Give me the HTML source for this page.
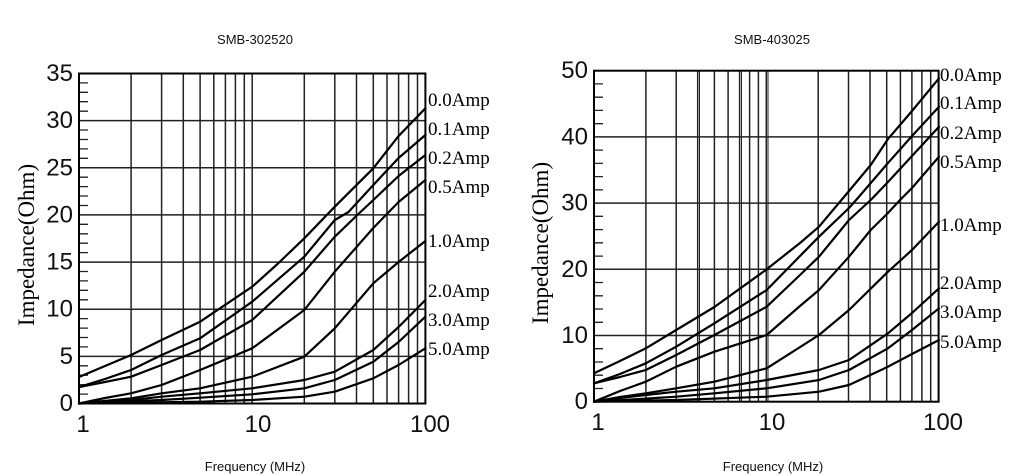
<!DOCTYPE html>
<html>
<head>
<meta charset="utf-8">
<style>
html,body{margin:0;padding:0;background:#fff;}
svg{display:block;}
.t{font-family:"Liberation Sans",Arial,sans-serif;fill:#111;}
.s{font-family:"Liberation Serif","Times New Roman",serif;fill:#000;}
</style>
</head>
<body>
<svg width="1024" height="476" viewBox="0 0 1024 476" xmlns="http://www.w3.org/2000/svg">
<rect width="1024" height="476" fill="#fff"/>

<!-- ================= LEFT CHART ================= -->
<text class="t" x="255" y="44" font-size="13" text-anchor="middle">SMB-302520</text>
<g stroke="#222" stroke-width="1.5" fill="none">
  <!-- vertical grid -->
  <path d="M131.1 73.5V403.5M161.6 73.5V403.5M183.3 73.5V403.5M200.1 73.5V403.5M213.8 73.5V403.5M225.4 73.5V403.5M235.4 73.5V403.5M244.3 73.5V403.5M252.2 73.5V403.5M304.3 73.5V403.5M334.8 73.5V403.5M356.5 73.5V403.5M373.3 73.5V403.5M387 73.5V403.5M398.6 73.5V403.5M408.6 73.5V403.5M417.5 73.5V403.5"/>
  <!-- horizontal grid -->
  <path d="M79 356.4H425.4M79 309.2H425.4M79 262.1H425.4M79 214.9H425.4M79 167.8H425.4M79 120.6H425.4"/>
  <!-- minor ticks -->
  <path stroke-width="1.3" d="M79 394.1h9M79 384.6h9M79 375.2h9M79 365.8h9M79 346.9h9M79 337.5h9M79 328.1h9M79 318.6h9M79 299.8h9M79 290.3h9M79 280.9h9M79 271.5h9M79 252.6h9M79 243.2h9M79 233.8h9M79 224.3h9M79 205.5h9M79 196h9M79 186.6h9M79 177.2h9M79 158.3h9M79 148.9h9M79 139.5h9M79 130h9M79 111.2h9M79 101.7h9M79 92.3h9M79 82.9h9"/>
</g>
<rect x="79" y="73.5" width="346.4" height="330" fill="none" stroke="#000" stroke-width="2"/>

<g stroke="#000" stroke-width="2.2" fill="none" stroke-linejoin="round" stroke-linecap="round">
  <polyline points="79,377 105,366 131.1,355 161.6,340 200.1,321.7 252.2,286.7 277.5,264 304.3,238.3 334.8,206.7 373.3,168.3 398.6,136 425.4,108.3"/>
  <polyline points="79,387 105,379 131.1,370 161.6,355 200.1,338.3 252.2,301.7 304.3,256.7 334.8,220 348.5,212 373.3,185 398.6,158 425.4,135"/>
  <polyline points="79,387 105,382 131.1,376.7 161.6,365 200.1,350 252.2,320 304.3,271.7 334.8,236.7 358.4,214 373.3,200 398.6,176 425.4,155"/>
  <polyline points="79,403.5 105,398 131.1,393.3 161.6,385 200.1,370 252.2,348.3 304.3,310 334.8,271.7 373.3,228 398.6,202 425.4,180"/>
  <polyline points="79,403.5 131.1,398.3 161.6,393.3 200.1,388.3 252.2,376.7 304.3,356.7 334.8,328.3 373.3,283.3 398.6,262 425.4,241"/>
  <polyline points="79,403.5 105,402 131.1,400 161.6,396.7 200.1,393.3 252.2,388.3 304.3,380 334.8,371.7 373.3,350 398.6,327 425.4,300"/>
  <polyline points="79,403.5 161.6,400 200.1,397.7 252.2,394.3 304.3,388.3 334.8,380 373.3,361.7 398.6,342 425.4,316.7"/>
  <polyline points="79,403.5 200.1,401.7 252.2,400 304.3,396.7 334.8,391.7 373.3,378.3 398.6,365 425.4,348.3"/>
</g>

<g class="t" font-size="24" text-anchor="end">
  <text x="73" y="81">35</text>
  <text x="73" y="128.1">30</text>
  <text x="73" y="175.3">25</text>
  <text x="73" y="222.4">20</text>
  <text x="73" y="269.6">15</text>
  <text x="73" y="316.7">10</text>
  <text x="73" y="363.9">5</text>
  <text x="73" y="411">0</text>
</g>
<g class="t" font-size="24" text-anchor="middle">
  <text x="83" y="432">1</text>
  <text x="258" y="432">10</text>
  <text x="430" y="432">100</text>
</g>
<text class="s" font-size="23" text-anchor="middle" transform="translate(34,245) rotate(-90)">Impedance(Ohm)</text>
<text class="t" x="255" y="471" font-size="13" text-anchor="middle">Frequency (MHz)</text>
<g class="s" font-size="19">
  <text x="428" y="106">0.0Amp</text>
  <text x="428" y="135">0.1Amp</text>
  <text x="428" y="164">0.2Amp</text>
  <text x="428" y="193">0.5Amp</text>
  <text x="428" y="247">1.0Amp</text>
  <text x="428" y="297">2.0Amp</text>
  <text x="428" y="326">3.0Amp</text>
  <text x="428" y="355">5.0Amp</text>
</g>

<!-- ================= RIGHT CHART ================= -->
<text class="t" x="772" y="44" font-size="13" text-anchor="middle">SMB-403025</text>
<g stroke="#222" stroke-width="1.5" fill="none">
  <path d="M645.9 70.7V401.7M676.2 70.7V401.7M697.7 70.7V401.7M714.4 70.7V401.7M728.1 70.7V401.7M739.6 70.7V401.7M749.6 70.7V401.7M758.4 70.7V401.7M766.3 70.7V401.7M818.2 70.7V401.7M848.5 70.7V401.7M870 70.7V401.7M886.7 70.7V401.7M900.4 70.7V401.7M911.9 70.7V401.7M921.9 70.7V401.7M930.7 70.7V401.7"/>
  <path stroke-width="1" d="M699.5 70.7V401.7M741.5 70.7V401.7M768 70.7V401.7"/>
  <path d="M594 335.5H938.6M594 269.3H938.6M594 203.1H938.6M594 136.9H938.6"/>
  <path stroke-width="1.3" d="M594 388.5h9M594 375.2h9M594 362h9M594 348.7h9M594 322.3h9M594 309h9M594 295.8h9M594 282.5h9M594 256.1h9M594 242.8h9M594 229.6h9M594 216.3h9M594 189.9h9M594 176.6h9M594 163.4h9M594 150.1h9M594 123.7h9M594 110.4h9M594 97.2h9M594 83.9h9"/>
</g>
<rect x="594" y="70.7" width="344.6" height="331" fill="none" stroke="#000" stroke-width="2"/>

<g stroke="#000" stroke-width="2.2" fill="none" stroke-linejoin="round" stroke-linecap="round">
  <polyline points="594,373.3 620,361 645.8,348.3 676.2,330 714.4,307 766.7,269.3 800,243 819,226.7 849,191 870.7,165 888,139 912,111 939,78.3"/>
  <polyline points="594,383.3 620,374 645.8,363.3 676.2,346.7 714.4,323.3 766.7,290 800,256 819,236.7 849,208 857,199 888,163 912,136 939,106.7"/>
  <polyline points="594,383.3 620,377 645.8,370 676.2,355 714.4,335 766.7,306.7 800,275 819,256.7 849,220 870.7,200 888,182 912,156 939,126.7"/>
  <polyline points="594,401.7 620,391 645.8,381.7 676.2,366.7 714.4,351.7 766.7,335 800,306 819,290 849,256.7 870.7,230 888,213 900,200 912,188 939,156.7"/>
  <polyline points="594,401.7 620,397 645.8,393.3 676.2,388.3 714.4,381.7 766.7,368.3 819,335 849,310 888,271.7 912,250 939,221.7"/>
  <polyline points="594,401.7 620,398 645.8,395 676.2,391.7 714.4,388.3 766.7,380 819,370 849,360 888,333.3 912,313 939,288.3"/>
  <polyline points="594,401.7 640,399 676.2,396.7 714.4,393.3 766.7,388.3 819,380 849,370 888,348.3 912,330 939,308.3"/>
  <polyline points="594,401.7 676.2,400 766.7,396.7 819,391.7 849,385 888,366.7 912,354 939,340"/>
</g>

<g class="t" font-size="24" text-anchor="end">
  <text x="588" y="78.2">50</text>
  <text x="588" y="144.4">40</text>
  <text x="588" y="210.6">30</text>
  <text x="588" y="276.8">20</text>
  <text x="588" y="343">10</text>
  <text x="588" y="409.2">0</text>
</g>
<g class="t" font-size="24" text-anchor="middle">
  <text x="598" y="430">1</text>
  <text x="772" y="430">10</text>
  <text x="943" y="430">100</text>
</g>
<text class="s" font-size="23" text-anchor="middle" transform="translate(548,243) rotate(-90)">Impedance(Ohm)</text>
<text class="t" x="773" y="471" font-size="13" text-anchor="middle">Frequency (MHz)</text>
<g class="s" font-size="19">
  <text x="940" y="81">0.0Amp</text>
  <text x="940" y="109">0.1Amp</text>
  <text x="940" y="139">0.2Amp</text>
  <text x="940" y="168">0.5Amp</text>
  <text x="940" y="231">1.0Amp</text>
  <text x="940" y="289">2.0Amp</text>
  <text x="940" y="318">3.0Amp</text>
  <text x="940" y="348">5.0Amp</text>
</g>
</svg>
</body>
</html>
